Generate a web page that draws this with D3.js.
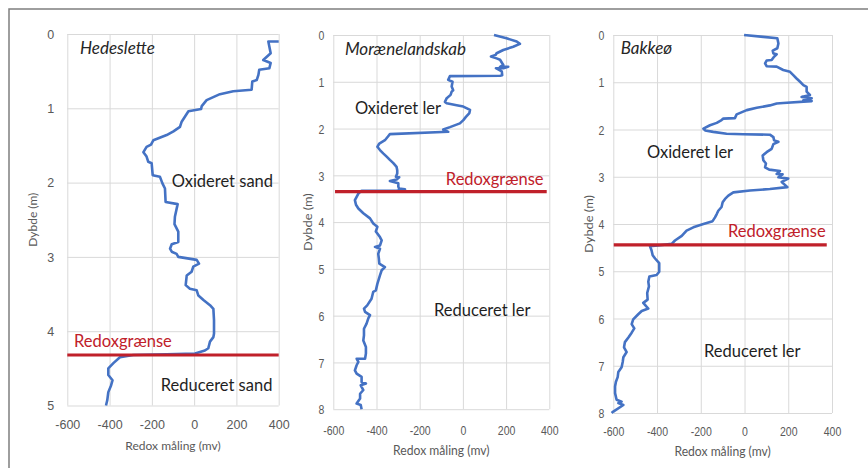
<!DOCTYPE html>
<html>
<head>
<meta charset="utf-8">
<script src="https://cdn.jsdelivr.net/npm/d3@7"></script>
<style>
body { margin: 0; background: #fff; }
svg { display: block; font-family: Lato, "Open Sans", sans-serif; }
</style>
</head>
<body>
<svg id="chart" width="868" height="468"></svg>
<script>
// redox profiles: [depth (m), redox (mV)]
var hedeslette = [
  [0.10,400],[0.10,351],[0.26,362],[0.35,327],[0.39,362],[0.46,356],[0.48,308],[0.55,304],[0.62,296],
  [0.64,275],[0.75,272],[0.77,185],[0.81,122],[0.89,59],[0.97,36],[1.01,33],[1.04,-27],[1.11,-43],
  [1.18,-59],[1.25,-67],[1.31,-98],[1.36,-130],[1.43,-193],[1.49,-204],[1.52,-225],[1.59,-240],
  [1.65,-225],[1.72,-217],[1.74,-201],[1.90,-196],[1.92,-162],[2.01,-150],[2.08,-138],[2.26,-135],
  [2.29,-78],[2.46,-91],[2.56,-93],[2.66,-75],[2.80,-75],[2.83,-106],[2.89,-114],[2.93,-106],
  [2.96,-83],[3.00,-75],[3.04,12],[3.09,23],[3.13,-4],[3.20,-12],[3.25,-35],[3.38,-40],[3.43,-20],
  [3.45,12],[3.52,20],[3.58,44],[3.65,75],[3.70,91],[3.85,94],[4.03,94],[4.08,91],[4.14,75],
  [4.23,67],[4.26,51],[4.30,4],[4.31,-130],[4.32,-288],[4.35,-351],[4.43,-382],[4.50,-406],
  [4.59,-406],[4.66,-386],[4.73,-393],[4.82,-406],[4.93,-411],[5.00,-417]
];

var moraenelandskab = [
  [0,144],[0.07,202],[0.14,249],[0.19,264],[0.25,233],[0.32,187],[0.39,156],[0.43,151],[0.46,130],
  [0.50,156],[0.53,172],[0.64,187],[0.68,172],[0.68,210],[0.71,187],[0.71,153],[0.78,180],[0.86,182],
  [0.87,172],[0.88,-60],[0.96,-68],[1.00,-48],[1.10,-52],[1.18,-45],[1.21,-52],[1.28,-57],[1.35,-75],
  [1.43,-83],[1.46,-75],[1.50,-29],[1.53,2],[1.60,33],[1.67,30],[1.75,14],[1.82,2],[1.89,-14],
  [1.97,-60],[2.02,-91],[2.07,-68],[2.12,-338],[2.16,-345],[2.25,-361],[2.32,-387],[2.39,-396],
  [2.46,-384],[2.53,-369],[2.60,-353],[2.67,-338],[2.74,-322],[2.82,-307],[2.89,-304],[2.96,-304],
  [3.03,-310],[3.04,-295],[3.09,-307],[3.12,-338],[3.17,-299],[3.24,-299],[3.28,-296],[3.30,-268],
  [3.33,-307],[3.33,-469],[3.39,-484],[3.46,-492],[3.53,-500],[3.63,-495],[3.71,-484],[3.81,-461],
  [3.92,-430],[4.03,-415],[4.10,-396],[4.20,-403],[4.32,-384],[4.39,-376],[4.50,-384],[4.53,-407],
  [4.57,-384],[4.68,-392],[4.78,-389],[4.89,-387],[4.96,-361],[5.03,-376],[5.14,-384],[5.32,-396],
  [5.46,-403],[5.49,-415],[5.64,-423],[5.78,-443],[5.85,-458],[5.92,-453],[5.99,-430],[6.06,-438],
  [6.17,-446],[6.28,-458],[6.42,-458],[6.53,-461],[6.67,-449],[6.81,-449],[6.92,-453],[6.92,-492],
  [6.99,-484],[7.06,-492],[7.17,-500],[7.24,-492],[7.31,-469],[7.42,-469],[7.45,-449],[7.49,-473],
  [7.59,-461],[7.67,-476],[7.77,-476],[7.88,-492],[7.91,-473],[8.00,-469]
];

var bakkeoe = [
  [0,-2],[0.04,86],[0.07,150],[0.18,155],[0.28,150],[0.33,129],[0.39,132],[0.41,147],[0.46,135],
  [0.53,124],[0.54,101],[0.60,94],[0.66,101],[0.67,147],[0.74,177],[0.78,208],[0.85,223],[0.92,238],
  [0.99,254],[1.06,269],[1.10,284],[1.20,284],[1.27,299],[1.31,261],[1.34,307],[1.38,269],[1.40,307],
  [1.44,177],[1.45,147],[1.49,116],[1.54,56],[1.59,10],[1.68,-36],[1.76,-44],[1.77,-97],[1.80,-105],
  [1.86,-127],[1.91,-158],[1.98,-188],[2.02,-180],[2.05,-143],[2.09,-82],[2.10,-6],[2.11,116],
  [2.16,132],[2.23,135],[2.26,155],[2.31,132],[2.41,124],[2.48,101],[2.55,83],[2.65,86],[2.72,98],
  [2.80,94],[2.85,113],[2.88,162],[2.94,147],[2.95,174],[3.01,155],[3.04,200],[3.11,170],[3.22,196],
  [3.26,116],[3.29,25],[3.33,-51],[3.40,-74],[3.47,-89],[3.54,-100],[3.64,-105],[3.72,-120],
  [3.79,-127],[3.86,-135],[3.94,-146],[4.00,-188],[4.07,-234],[4.14,-265],[4.25,-287],[4.35,-318],
  [4.42,-333],[4.45,-387],[4.47,-432],[4.56,-425],[4.66,-420],[4.73,-409],[4.83,-390],[5.01,-390],
  [5.08,-402],[5.11,-435],[5.22,-440],[5.32,-437],[5.46,-445],[5.60,-443],[5.67,-463],[5.74,-450],
  [5.79,-440],[5.84,-470],[5.91,-486],[6.02,-509],[6.12,-516],[6.21,-504],[6.30,-516],[6.40,-531],
  [6.50,-547],[6.61,-551],[6.71,-539],[6.82,-554],[6.92,-557],[7.03,-562],[7.13,-577],[7.24,-580],
  [7.34,-588],[7.44,-592],[7.58,-592],[7.72,-585],[7.76,-562],[7.79,-577],[7.83,-554],[7.97,-600],
  [8.00,-608]
];

var siteNames = ["Hedeslette", "Morænelandskab", "Bakkeø"];
var upperLabels = ["Oxideret sand", "Oxideret ler", "Oxideret ler"];
var lowerLabels = ["Reduceret sand", "Reduceret ler", "Reduceret ler"];
var redoxBoundary = [4.32, 3.35, 4.44];
var redoxTicks = [-600, -400, -200, 0, 200, 400];
var depthTicks5 = [0, 1, 2, 3, 4, 5];
var depthTicks8 = [0, 1, 2, 3, 4, 5, 6, 7, 8];

var svg = d3.select("#chart");

// outer frame
svg.append("path")
  .attr("d", "M9,468V9H868")
  .attr("fill", "none")
  .attr("stroke", "#7f7f7f")
  .attr("stroke-width", 1.5);

// layout per panel (pixels + label anchors in data units)
var panels = [
  {data: hedeslette, ticks: depthTicks5, maxDepth: 5,
   left: 67.3, right: 278.7, top: 34, bottom: 405.5,
   tickFont: 12.5, sx: 1, xPad: 14, yPad: 13, titleY: 450, titleFont: 12, yTitleX: 37,
   lineFrom: -600, lineTo: 400,
   name: [-540, 0.27], upper: [-106, 2.06], lower: [-158, 4.80], redox: [-568, 4.21]},
  {data: moraenelandskab, ticks: depthTicks8, maxDepth: 8,
   left: 333.3, right: 549.3, top: 35, bottom: 409.2,
   tickFont: 13.5, sx: 0.78, xPad: 16, yPad: 9, titleY: 455, titleFont: 13.5, yTitleX: 312,
   lineFrom: -592, lineTo: 388,
   name: [-546, 0.43], upper: [-500, 1.69], lower: [-134, 6.0], redox: [-79, 3.21]},
  {data: bakkeoe, ticks: depthTicks8, maxDepth: 8,
   left: 613.3, right: 832, top: 35, bottom: 413,
   tickFont: 13.5, sx: 0.78, xPad: 13.5, yPad: 9, titleY: 456, titleFont: 13.5, yTitleX: 593,
   lineFrom: -598, lineTo: 376,
   name: [-566, 0.40], upper: [-446, 2.60], lower: [-185, 6.81], redox: [-76, 4.28]}
];

panels.forEach(function(p, i) {
  var x = d3.scaleLinear().domain([-600, 400]).range([p.left, p.right]);
  var y = d3.scaleLinear().domain([0, p.maxDepth]).range([p.top, p.bottom]);
  var g = svg.append("g");

  // gridlines + tick labels via axes
  var xAxis = g.append("g")
    .attr("transform", "translate(0," + p.bottom + ")")
    .call(d3.axisBottom(x).tickValues(redoxTicks).tickSize(-(p.bottom - p.top)).tickFormat(function(d){ return String(d); }));
  var yAxis = g.append("g")
    .attr("transform", "translate(" + p.left + ",0)")
    .call(d3.axisLeft(y).tickValues(p.ticks).tickSize(-(p.right - p.left)).tickFormat(function(d){ return String(d); }));

  [xAxis, yAxis].forEach(function(a) {
    a.select(".domain").remove();
    a.selectAll(".tick line").attr("stroke", "#d9d9d9").attr("stroke-width", 1);
    a.selectAll(".tick text")
      .attr("fill", "#595959")
      .style("font-size", p.tickFont + "px");
  });
  xAxis.selectAll(".tick text")
    .attr("y", 0).attr("dy", null)
    .attr("transform", "translate(0," + (p.xPad + p.tickFont * 0.72) + ") scale(" + p.sx + ",1)");
  yAxis.selectAll(".tick text")
    .attr("x", 0).attr("dy", "0.35em")
    .attr("text-anchor", "end")
    .attr("transform", "translate(" + (-p.yPad) + ",0) scale(" + p.sx + ",1)");

  // axis titles
  g.append("text")
    .attr("transform", "translate(" + ((p.left + p.right) / 2) + "," + p.titleY + ") scale(" + (p.sx === 1 ? 1 : 0.9) + ",1)")
    .attr("text-anchor", "middle")
    .attr("fill", "#595959")
    .style("font-size", p.titleFont + "px")
    .text("Redox måling (mv)");
  g.append("text")
    .attr("transform", "translate(" + p.yTitleX + "," + ((p.top + p.bottom) / 2) + ") rotate(-90) scale(" + (p.sx === 1 ? 1 : 0.95) + "," + (p.sx === 1 ? 1 : 0.85) + ")")
    .attr("text-anchor", "middle")
    .attr("fill", "#595959")
    .style("font-size", p.titleFont + "px")
    .text("Dybde (m)");

  // redox profile
  var line = d3.line()
    .x(function(d){ return x(d[1]); })
    .y(function(d){ return y(d[0]); });
  g.append("path")
    .datum(p.data)
    .attr("d", line)
    .attr("fill", "none")
    .attr("stroke", "#4472c4")
    .attr("stroke-width", 2.6)
    .attr("stroke-linejoin", "round");

  // redox boundary
  g.append("line")
    .attr("x1", x(p.lineFrom)).attr("x2", x(p.lineTo))
    .attr("y1", y(redoxBoundary[i])).attr("y2", y(redoxBoundary[i]))
    .attr("stroke", "#c0202a")
    .attr("stroke-width", 3.2);

  g.append("text")
    .attr("x", x(p.redox[0])).attr("y", y(p.redox[1]))
    .attr("fill", "#c0202a")
    .style("font-size", "16.5px")
    .text("Redoxgrænse");

  g.append("text")
    .attr("x", x(p.name[0])).attr("y", y(p.name[1]))
    .attr("fill", "#262626")
    .style("font-size", "17px")
    .style("font-style", "italic")
    .text(siteNames[i]);

  g.append("text")
    .attr("x", x(p.upper[0])).attr("y", y(p.upper[1]))
    .attr("fill", "#1f1f1f")
    .style("font-size", "16.5px")
    .text(upperLabels[i]);

  g.append("text")
    .attr("x", x(p.lower[0])).attr("y", y(p.lower[1]))
    .attr("fill", "#1f1f1f")
    .style("font-size", "16.5px")
    .text(lowerLabels[i]);
});
</script>
</body>
</html>
